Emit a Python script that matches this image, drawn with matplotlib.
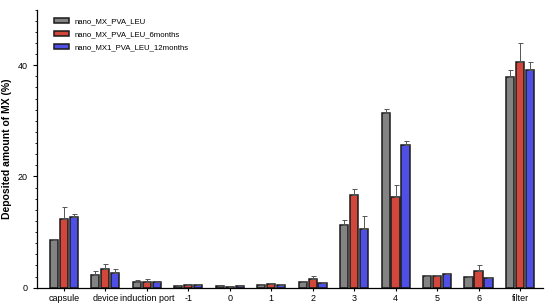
import numpy as np
import matplotlib
matplotlib.use('Agg')
import matplotlib.pyplot as plt
from matplotlib.ticker import MultipleLocator

plt.rcParams['font.family'] = ['Liberation Sans', 'DejaVu Sans']

stages = ['capsule', 'device', 'induction port', '-1', '0', '1', '2', '3', '4', '5', '6', 'filter']
series = ['nano_MX_PVA_LEU', 'nano_MX_PVA_LEU_6months', 'nano_MX1_PVA_LEU_12months']

mx_0m = [8.6, 2.2, 1.1, 0.3, 0.25, 0.5, 1.1, 11.2, 31.4, 2.1, 1.85, 37.9]
mx_6m = [12.3, 3.3, 1.1, 0.5, 0.2, 0.6, 1.55, 16.7, 16.3, 2.1, 3.05, 40.5]
mx_12m = [12.7, 2.7, 0.95, 0.5, 0.25, 0.5, 0.9, 10.5, 25.7, 2.5, 1.8, 39.2]

err_0m = [0.2, 0.8, 0.3, 0.1, 0.05, 0.1, 0.1, 0.9, 0.7, 0.1, 0.3, 1.3]
err_6m = [2.2, 0.9, 0.5, 0.1, 0.05, 0.2, 0.55, 1.0, 2.2, 0.1, 1.05, 3.4]
err_12m = [0.6, 0.7, 0.1, 0.1, 0.05, 0.1, 0.1, 2.3, 0.6, 0.1, 0.1, 1.3]

colors = ['#838383', '#d2473c', '#4f4fe6']

fig = plt.figure(figsize=(5.5, 3.07), dpi=100)
ax = fig.add_axes([0.067, 0.063, 0.92, 0.906])

x = np.arange(len(stages))
offs = [-0.24, 0, 0.24]
for vals, errs, off, c, lab in zip([mx_0m, mx_6m, mx_12m], [err_0m, err_6m, err_12m],
                                   offs, colors, series):
    ax.bar(x + off, vals, 0.2, color=c, edgecolor='#1a1a1a', linewidth=1.1, label=lab,
           yerr=[np.zeros(len(errs)), errs], capsize=1.8,
           error_kw=dict(ecolor='#555555', elinewidth=0.7, capthick=0.7))

ax.set_xlim(-0.65, 11.55)
ax.set_ylim(0, 50)
ax.set_xticks(x)
ax.set_xticklabels(stages, fontsize=6.5)
ax.yaxis.set_major_locator(MultipleLocator(20))
ax.yaxis.set_minor_locator(MultipleLocator(2))
ax.tick_params(axis='y', labelsize=6.5, length=3, width=0.8)
ax.tick_params(axis='y', which='minor', length=1.8, width=0.6)
ax.tick_params(axis='x', length=2.5, width=0.8, pad=2)
ax.set_ylabel('Deposited amount of MX (%)', fontsize=7.5, fontweight='bold', labelpad=4)

for s in ['top', 'right']:
    ax.spines[s].set_visible(False)
for s in ['left', 'bottom']:
    ax.spines[s].set_linewidth(0.9)

ax.legend(loc='upper left', bbox_to_anchor=(0.02, 0.995), fontsize=5.6, frameon=False,
          handlelength=1.9, handleheight=0.6, labelspacing=0.75)

fig.savefig('out.png', dpi=100)
